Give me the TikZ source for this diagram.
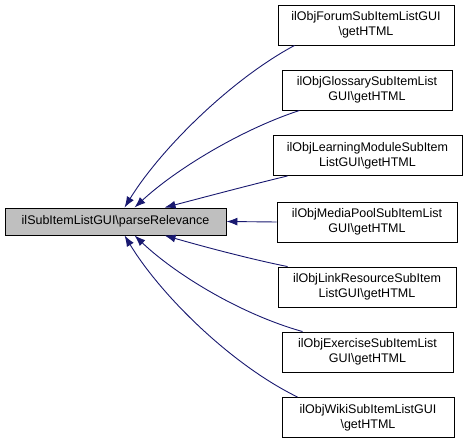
\documentclass[tikz,border=0pt]{standalone}
\usepackage{fontspec}
\setmainfont{Liberation Sans}
\usetikzlibrary{arrows.meta,calc}
\definecolor{edgeblue}{HTML}{191970}
\definecolor{rootgray}{HTML}{BFBFBF}
\begin{document}
\begin{tikzpicture}[x=1pt,y=-1pt,
  box/.style={draw=black,line width=0.9pt,inner sep=0pt,align=center,
    font=\fontsize{12.5}{15}\selectfont,minimum height=40pt},
  rootbox/.style={box,fill=rootgray,minimum height=27pt},
  edge/.style={draw=edgeblue,line width=0.9pt,-{Latex[length=11pt,width=8pt]}}]
\useasboundingbox (0,0) rectangle (467,444);
\node[rootbox,minimum width=221pt] (root) at (115.5,221.5) {ilSubItemListGUI\textbackslash parseRelevance};
\node[box,minimum width=176pt] (forum) at (366,25) {ilObjForumSubItemListGUI\\\textbackslash getHTML};
\node[box,minimum width=170pt] (gloss) at (367,90) {ilObjGlossarySubItemList\\GUI\textbackslash getHTML};
\node[box,minimum width=189pt] (lm) at (367.5,155.5) {ilObjLearningModuleSubItem\\ListGUI\textbackslash getHTML};
\node[box,minimum width=180pt] (mp) at (367,222) {ilObjMediaPoolSubItemList\\GUI\textbackslash getHTML};
\node[box,minimum width=178pt] (link) at (367,287) {ilObjLinkResourceSubItem\\ListGUI\textbackslash getHTML};
\node[box,minimum width=171pt] (exer) at (367.5,352) {ilObjExerciseSubItemList\\GUI\textbackslash getHTML};
\node[box,minimum width=172pt] (wiki) at (368,417.5) {ilObjWikiSubItemListGUI\\\textbackslash getHTML};
% anchors on root
\coordinate (rt1) at ($(root.north west)+(120,0)$);
\coordinate (rt2) at ($(root.north west)+(130,0)$);
\coordinate (rt3) at ($(root.north west)+(160,0)$);
\coordinate (rb1) at ($(root.south west)+(120,0)$);
\coordinate (rb2) at ($(root.south west)+(130,0)$);
\coordinate (rb3) at ($(root.south west)+(160,0)$);
\draw[edge] ($(forum.south west)+(17,0)$) .. controls (230,80) and (160,150) .. (rt1);
\draw[edge] ($(gloss.south west)+(18,0)$) .. controls (240,130) and (175,170) .. (rt2);
\draw[edge] ($(lm.south west)+(15,0)$) .. controls (250,185) and (205,197) .. (rt3);
\draw[edge] (mp.west) -- (root.east);
\draw[edge] ($(link.north west)+(10,0)$) .. controls (250,259) and (205,247) .. (rb3);
\draw[edge] ($(exer.north west)+(21,0)$) .. controls (240,314) and (175,274) .. (rb2);
\draw[edge] ($(wiki.north west)+(16,0)$) .. controls (230,364) and (160,294) .. (rb1);
\end{tikzpicture}
\end{document}
